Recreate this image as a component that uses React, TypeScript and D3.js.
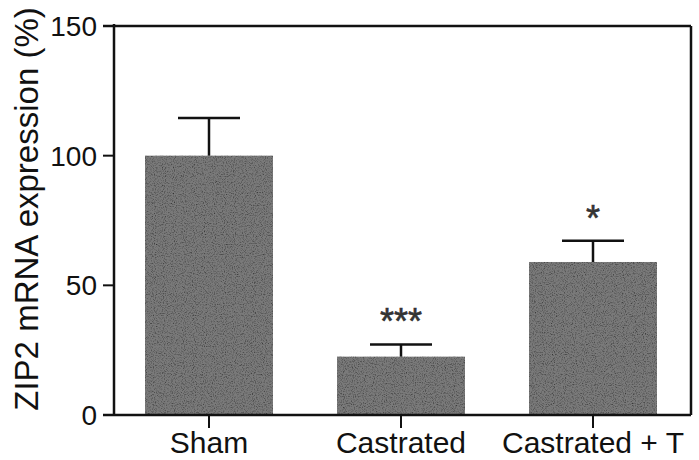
import React from "react";
import * as d3 from "d3";

const categories = ["Sham", "Castrated", "Castrated + T"];
const means = [100, 22.5, 59];
const errors = [14.5, 4.7, 8.2];
const significance = ["", "***", "*"];
const yTicks = [0, 50, 100, 150];
const yLabel = "ZIP2 mRNA expression (%)";

export default function App() {
  const W = 699, H = 460;
  const left = 114, right = 691, top = 26, bottom = 415;
  const y = d3.scaleLinear().domain([0, 150]).range([bottom, top]);
  const x = d3.scaleBand<string>().domain(categories).range([145, 657]).paddingInner(1 / 3).paddingOuter(0);
  const bw = x.bandwidth();
  const font = "'Liberation Sans', Arial, sans-serif";
  return (
    <svg width={W} height={H} style={{ position: "absolute", left: 0, top: 0, background: "#fff" }}>
      <defs>
        <filter id="grain" x="0" y="0" width="100%" height="100%">
          <feTurbulence type="fractalNoise" baseFrequency="0.9" numOctaves="2" seed="3" result="noise" />
          <feColorMatrix in="noise" type="matrix"
            values="0 0 0 0 0  0 0 0 0 0  0 0 0 0 0  0 0 0 -1.8 1.0" result="dark" />
          <feComposite in="dark" in2="SourceGraphic" operator="in" result="darkIn" />
          <feMerge>
            <feMergeNode in="SourceGraphic" />
            <feMergeNode in="darkIn" />
          </feMerge>
        </filter>
      </defs>
      {/* bars */}
      {categories.map((c, i) => (
        <rect key={c} x={x(c)} y={y(means[i])} width={bw} height={y(0) - y(means[i])}
          fill="#7a7a7a" filter="url(#grain)" />
      ))}
      {/* error bars */}
      {categories.map((c, i) => {
        const cx = (x(c) as number) + bw / 2;
        const yt = y(means[i] + errors[i]);
        return (
          <g key={c} stroke="#111" strokeWidth={2.5}>
            <line x1={cx} x2={cx} y1={y(means[i])} y2={yt} />
            <line x1={cx - 31} x2={cx + 31} y1={yt} y2={yt} />
          </g>
        );
      })}
      {/* significance */}
      {categories.map((c, i) => (
        <text key={c} x={(x(c) as number) + bw / 2} y={y(means[i] + errors[i]) - 10}
          textAnchor="middle" fontFamily={font} fontSize={36} fill="#333" stroke="#333" strokeWidth={0.6}>{significance[i]}</text>
      ))}
      {/* frame */}
      <g stroke="#111" strokeWidth={2.5} fill="none">
        <line x1={left} x2={left} y1={top - 2} y2={bottom} />
        <line x1={left - 11} x2={right} y1={bottom} y2={bottom} />
        <line x1={left - 11} x2={right} y1={y(150)} y2={y(150)} />
        <line x1={right} x2={right} y1={y(150)} y2={bottom} />
      </g>
      {/* y ticks */}
      {yTicks.map(t => (
        <g key={t}>
          <line x1={left - 11} x2={left} y1={y(t)} y2={y(t)} stroke="#111" strokeWidth={2} />
          <text x={left - 17} y={y(t)} dy="0.36em" textAnchor="end" fontFamily={font} fontSize={28} fill="#111">{t}</text>
        </g>
      ))}
      {/* x ticks and labels */}
      {categories.map(c => {
        const cx = (x(c) as number) + bw / 2;
        return (
          <g key={c}>
            <line x1={cx} x2={cx} y1={bottom} y2={bottom + 13} stroke="#111" strokeWidth={2} />
            <text x={cx} y={453} textAnchor="middle" fontFamily={font} fontSize={30} fill="#111">{c}</text>
          </g>
        );
      })}
      {/* y label */}
      <text transform={`translate(38,209) rotate(-90)`} textAnchor="middle" fontFamily={font} fontSize={33} fill="#111">{yLabel}</text>
    </svg>
  );
}
